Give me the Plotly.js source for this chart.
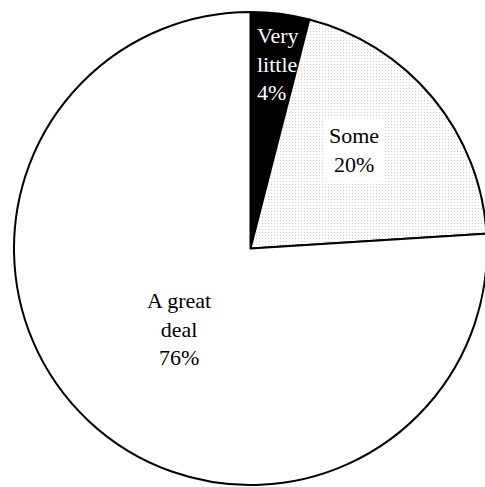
<!DOCTYPE html>
<html>
<head>
<meta charset="utf-8">
<script src="https://cdn.plot.ly/plotly-3.0.1.min.js"></script>
<style>
  html, body { margin: 0; padding: 0; background: #fff; overflow: hidden; font-family: 'Liberation Serif', serif; }
  #chart { width: 500px; height: 487px; }
  #chart text.annotation-text { font-family: 'Liberation Serif', serif !important; }
</style>
</head>
<body>
<div id="chart"></div>
<script>
// Share of respondents by amount
const categories = ['Very little', 'Some', 'A great deal'];
const labelText = ['Very<br>little', 'Some', 'A great<br>deal'];
const values = [4, 20, 76];

// Slice fills: solid black, light dotted, plain white
const sliceColors = ['#000000', '#ffffff', '#ffffff'];
const sliceShapes = ['', '.', ''];

// Label placement: fraction of radius and small angular nudge (degrees)
const labelRadius = [0.79, 0.605, 0.454];
const labelNudge = [1.4, -3.8, -1.6];
const labelColor = ['#ffffff', '#000000', '#000000'];
const labelBg = ['rgba(0,0,0,0)', '#ffffff', 'rgba(0,0,0,0)'];
const labelAlign = ['left', 'center', 'center'];

function draw() {
  const total = values.reduce((a, b) => a + b, 0);
  let cum = 0;
  const annotations = values.map((v, i) => {
    const midDeg = (cum + v / 2) / total * 360 + labelNudge[i];
    cum += v;
    const a = midDeg * Math.PI / 180;
    const r = 0.5 * labelRadius[i];
    const pct = Math.round(v / total * 100);
    return {
      xref: 'paper', yref: 'paper',
      x: 0.5 + r * Math.sin(a),
      y: 0.5 + r * Math.cos(a),
      xanchor: 'center', yanchor: 'middle',
      text: labelText[i] + '<br>' + pct + '%',
      align: labelAlign[i],
      showarrow: false,
      bgcolor: labelBg[i],
      borderpad: 4,
      font: { family: 'Liberation Serif', size: 22, color: labelColor[i] }
    };
  });

  const trace = {
    type: 'pie',
    labels: categories,
    values: values,
    sort: false,
    direction: 'clockwise',
    rotation: 0,
    textinfo: 'none',
    hoverinfo: 'label+percent',
    marker: {
      colors: sliceColors,
      line: { color: '#000000', width: 2 },
      pattern: {
        shape: sliceShapes,
        fgcolor: '#c4c4c4',
        bgcolor: '#ffffff',
        size: 3,
        solidity: 0.1
      }
    },
    showlegend: false
  };

  const layout = {
    width: 500,
    height: 487,
    margin: { l: 14, r: 13, t: 12, b: 2, pad: 0 },
    paper_bgcolor: '#ffffff',
    plot_bgcolor: '#ffffff',
    font: { family: 'Liberation Serif' },
    showlegend: false,
    annotations: annotations
  };

  Plotly.newPlot('chart', [trace], layout, { displayModeBar: false, staticPlot: true });
}

// Make sure the serif face is ready before text is measured
if (document.fonts && document.fonts.load) {
  document.fonts.load('22px "Liberation Serif"').then(draw, draw);
} else {
  draw();
}
</script>
</body>
</html>
